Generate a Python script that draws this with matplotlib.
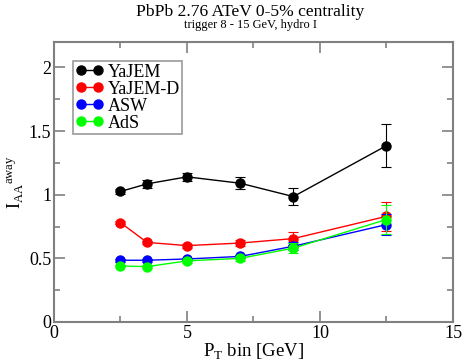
import numpy as np
import matplotlib
matplotlib.use("Agg")
import matplotlib.pyplot as plt

plt.rcParams['font.family'] = ['Liberation Serif', 'DejaVu Serif']
plt.rcParams['mathtext.fontset'] = 'custom'
plt.rcParams['mathtext.rm'] = 'Liberation Serif'

# data
pt = [2.5, 3.5, 5.0, 7.0, 9.0, 12.5]
yajem = [1.025, 1.085, 1.14, 1.09, 0.985, 1.385]
yajem_err = [0.02, 0.03, 0.03, 0.045, 0.065, 0.17]
yajemd = [0.78, 0.625, 0.60, 0.62, 0.655, 0.83]
yajemd_err = [0.01, 0.015, 0.015, 0.025, 0.05, 0.115]
asw = [0.485, 0.485, 0.495, 0.515, 0.595, 0.765]
asw_err = [0.01, 0.01, 0.01, 0.015, 0.03, 0.08]
ads = [0.44, 0.435, 0.48, 0.50, 0.58, 0.805]
ads_err = [0.01, 0.01, 0.015, 0.02, 0.04, 0.11]

series = [
    ("YaJEM", yajem, yajem_err, "black"),
    ("YaJEM-D", yajemd, yajemd_err, "red"),
    ("ASW", asw, asw_err, "blue"),
    ("AdS", ads, ads_err, "#00ff00"),
]

fig = plt.figure(figsize=(4.63, 3.62), dpi=100)
ax = fig.add_axes([0.1166, 0.1105, 0.8618, 0.7738])

handles = []
for name, y, e, c in series:
    ax.errorbar(pt, y, yerr=e, fmt='none', ecolor=c, capsize=3.5,
                elinewidth=0.8, capthick=0.8)
    h, = ax.plot(pt, y, color=c, marker='o', markersize=6.5, lw=1.0, label=name)
    handles.append(h)

ax.set_xlim(0, 15)
ax.set_ylim(0, 2.2)
ax.set_xticks([0, 5, 10, 15])
ax.set_xticks([2.5, 7.5, 12.5], minor=True)
ax.set_yticks([0, 0.5, 1, 1.5, 2])
ax.set_yticklabels(['0', '0.5', '1', '1.5', '2'])
ax.set_yticks([0.25, 0.75, 1.25, 1.75], minor=True)

frame = '#808080'
for s in ax.spines.values():
    s.set_color(frame)
    s.set_linewidth(1.5)
ax.tick_params(which='both', direction='in', top=True, right=True,
               color=frame, width=1.2, labelsize=13, pad=2)
ax.tick_params(which='major', length=8)
ax.tick_params(which='minor', length=4)

ax.set_xlabel(r'P$_\mathrm{T}$ bin [GeV]', fontsize=13.5, labelpad=0)
ax.set_ylabel(r'$\mathrm{I}_\mathrm{AA}{}^\mathrm{away}$', fontsize=13)
ax.yaxis.set_label_coords(-0.07, 0.5)

fig.text(0.54, 0.967, 'PbPb 2.76 ATeV 0-5% centrality', ha='center', va='center', fontsize=12.6)
fig.text(0.54, 0.932, 'trigger 8 - 15 GeV, hydro I', ha='center', va='center', fontsize=9)

leg = ax.legend(handles=handles, loc='upper left', bbox_to_anchor=(0.048, 0.932),
                fontsize=13, numpoints=2, frameon=True, fancybox=False,
                borderpad=0.15, labelspacing=0.0, handlelength=1.5,
                handletextpad=0.25, borderaxespad=0)
leg.get_frame().set_edgecolor(frame)
leg.get_frame().set_linewidth(1.2)

fig.savefig('out.png', dpi=100)
